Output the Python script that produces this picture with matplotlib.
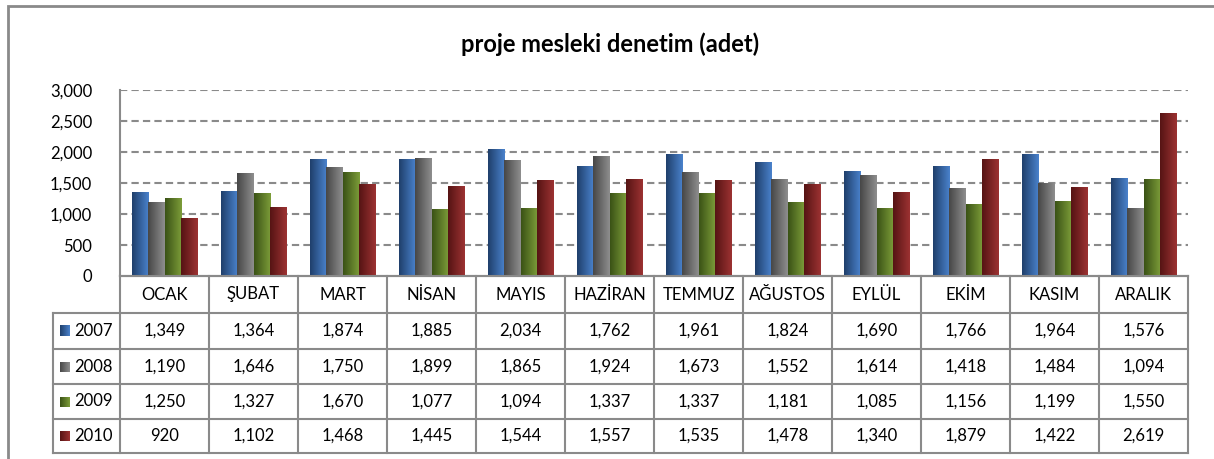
import numpy as np
from matplotlib import pyplot as plt
from matplotlib.colors import LinearSegmentedColormap
from matplotlib.patches import Rectangle

months = ['OCAK', 'ŞUBAT', 'MART', 'NİSAN', 'MAYIS', 'HAZİRAN',
          'TEMMUZ', 'AĞUSTOS', 'EYLÜL', 'EKİM', 'KASIM', 'ARALIK']
years = ['2007', '2008', '2009', '2010']
v2007 = [1349, 1364, 1874, 1885, 2034, 1762, 1961, 1824, 1690, 1766, 1964, 1576]
v2008 = [1190, 1646, 1750, 1899, 1865, 1924, 1673, 1552, 1614, 1418, 1484, 1094]
v2009 = [1250, 1327, 1670, 1077, 1094, 1337, 1337, 1181, 1085, 1156, 1199, 1550]
v2010 = [920, 1102, 1468, 1445, 1544, 1557, 1535, 1478, 1340, 1879, 1422, 2619]
series = [v2007, v2008, v2009, v2010]
yticks = [0, 500, 1000, 1500, 2000, 2500, 3000]

# dark -> light horizontal gradients like the Excel bars
shades = [('#1f3f6b', '#4a82cc'),
          ('#474747', '#8e8e8e'),
          ('#3a5216', '#7d9d39'),
          ('#561414', '#9c3232')]

plt.rcParams['font.family'] = ['Lato', 'DejaVu Sans']
fs = 12

W, H = 1214, 459
fig = plt.figure(figsize=(W / 100, H / 100), dpi=100)
grey = '#8a8a8a'

# outer chart frame (only left and top edges are in view)
fig.patches.append(Rectangle((8 / W, -0.1), 1.2, 1.1 - 6 / H,
                             transform=fig.transFigure, fill=False,
                             edgecolor=grey, lw=2))

fig.text(610 / W, 1 - 44 / H, 'proje mesleki denetim (adet)', ha='center',
         va='center', fontsize=17, fontweight='bold')

x0, x1, ytop, ybot = 120, 1188, 90, 276
ax = fig.add_axes([x0 / W, 1 - ybot / H, (x1 - x0) / W, (ybot - ytop) / H])

x = np.arange(len(months))
bw = 0.183
grad = np.linspace(0, 1, 64).reshape(1, -1)
for i, vals in enumerate(series):
    cmap = LinearSegmentedColormap.from_list('s%d' % i, shades[i])
    bars = ax.bar(x + (i - 1.5) * bw, vals, width=bw, color='none',
                  edgecolor='none', zorder=3)
    for b in bars:
        ax.imshow(grad, cmap=cmap, aspect='auto', zorder=3,
                  extent=(b.get_x(), b.get_x() + b.get_width(), 0, b.get_height()))
ax.set_xlim(-0.5, 11.5)
ax.set_ylim(0, 3000)

for t in yticks[1:]:
    ax.axhline(t, color=grey, lw=1.5, ls=(0, (3.5, 2)), zorder=1)
ax.set_yticks(yticks)
ax.set_yticklabels([f'{t:,}' for t in yticks], fontsize=fs)
ax.tick_params(axis='y', length=0, pad=20)
ax.set_xticks([])
for s in ['top', 'right']:
    ax.spines[s].set_visible(False)
for s in ['left', 'bottom']:
    ax.spines[s].set_color(grey)
    ax.spines[s].set_linewidth(1.5)

# data table below the plot
lx, tb = 53, 453
unit = (x1 - x0) / 12
tax = fig.add_axes([lx / W, 1 - tb / H, (x1 - lx) / W, (tb - ybot) / H])
left = -0.5 - (x0 - lx) / unit
rows = [0, 37, 73, 108, 143, 177]
tax.axis('off')
lk = dict(color=grey, lw=1.5, clip_on=False)
for r in rows:
    tax.plot([-0.5 if r == 0 else left, 11.5], [r, r], **lk)
for c in range(13):
    tax.plot([c - 0.5, c - 0.5], [0, 177], **lk)
tax.plot([left, left], [37, 177], **lk)

for j, m in enumerate(months):
    tax.text(j, 18.5, m, ha='center', va='center', fontsize=fs)
for i, vals in enumerate(series):
    yc = (rows[i + 1] + rows[i + 2]) / 2
    for j, v in enumerate(vals):
        tax.text(j, yc, f'{v:,}', ha='center', va='center', fontsize=fs)
    kx = left + 7 / unit
    cmap = LinearSegmentedColormap.from_list('k%d' % i, shades[i])
    tax.imshow(grad, cmap=cmap, aspect='auto', zorder=3,
               extent=(kx, kx + 10 / unit, yc + 5, yc - 5))
    tax.text(kx + 14 / unit, yc, years[i], ha='left', va='center', fontsize=fs)
tax.set_xlim(left, 11.5)
tax.set_ylim(177, 0)

fig.savefig('out.png', dpi=100)
